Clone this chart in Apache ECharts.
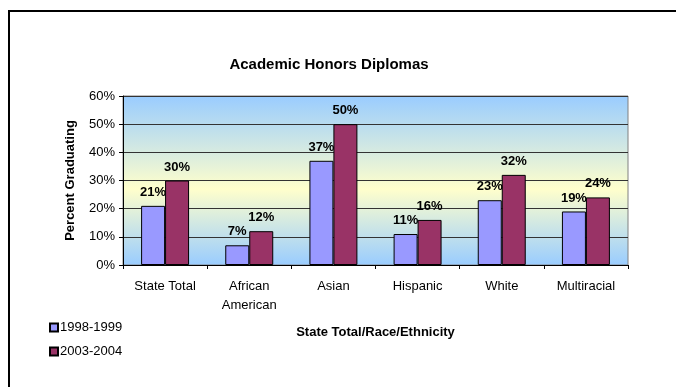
<!DOCTYPE html>
<html>
<head>
<meta charset="utf-8">
<script src="https://cdn.jsdelivr.net/npm/echarts@6/dist/echarts.min.js"></script>
<style>
  html, body { margin: 0; padding: 0; background: #fff; }
  #chart { width: 676px; height: 387px; }
</style>
</head>
<body>
<div id="chart"></div>
<script>
// Academic Honors Diplomas by group, two school years
var categories = ['State Total', 'African\nAmerican', 'Asian', 'Hispanic', 'White', 'Multiracial'];
var years = ['1998-1999', '2003-2004'];
var values1998 = [21, 7, 37, 11, 23, 19];
var values2003 = [30, 12, 50, 16, 32, 24];
var yTicks = [0, 10, 20, 30, 40, 50, 60];

var FONT = '"Liberation Sans", Arial, sans-serif';
var chart = echarts.init(document.getElementById('chart'), null, { renderer: 'canvas' });

function barLabel() {
  return {
    show: true,
    position: 'top',
    distance: 7,
    formatter: '{c}%',
    fontFamily: FONT,
    fontWeight: 'bold',
    fontSize: 13,
    color: '#000'
  };
}

chart.setOption({
  animation: false,
  backgroundColor: '#fff',
  title: {
    text: 'Academic Honors Diplomas',
    left: 324,
    textAlign: 'center',
    top: 52,
    textStyle: { fontFamily: FONT, fontWeight: 'bold', fontSize: 15, color: '#000' }
  },
  legend: {
    data: years,
    orient: 'vertical',
    left: 44,
    top: 316,
    itemWidth: 8,
    itemHeight: 8,
    itemGap: 11,
    icon: 'rect',
    textStyle: { fontFamily: FONT, fontSize: 13, color: '#000', padding: [0, 0, 0, -3] }
  },
  grid: {
    left: 123,
    right: 48,
    top: 96,
    bottom: 122,
    show: true,
    borderColor: '#808080',
    borderWidth: 1,
    backgroundColor: {
      type: 'linear', x: 0, y: 0, x2: 0, y2: 1,
      colorStops: [
        { offset: 0, color: '#99CCFF' },
        { offset: 0.55, color: '#FFFFCC' },
        { offset: 1, color: '#99CCFF' }
      ]
    }
  },
  xAxis: {
    type: 'category',
    data: categories,
    name: 'State Total/Race/Ethnicity',
    nameLocation: 'middle',
    nameGap: 61,
    nameTextStyle: { fontFamily: FONT, fontWeight: 'bold', fontSize: 13, color: '#000' },
    axisLine: { lineStyle: { color: '#000', width: 1 } },
    axisTick: { show: true, length: 4, lineStyle: { color: '#000' } },
    axisLabel: { fontFamily: FONT, fontSize: 13, color: '#000', margin: 12, lineHeight: 19 }
  },
  yAxis: {
    type: 'value',
    min: yTicks[0],
    max: yTicks[yTicks.length - 1],
    interval: 10,
    name: 'Percent Graduating',
    nameLocation: 'middle',
    nameGap: 46,
    nameTextStyle: { fontFamily: FONT, fontWeight: 'bold', fontSize: 13, color: '#000' },
    axisLine: { show: true, lineStyle: { color: '#000', width: 1 } },
    axisTick: { show: true, length: 4, lineStyle: { color: '#000' } },
    axisLabel: { fontFamily: FONT, fontSize: 13, color: '#000', margin: 8, formatter: '{value}%' },
    splitLine: { show: true, lineStyle: { color: '#333', width: 1 } }
  },
  series: [
    {
      name: years[0],
      type: 'bar',
      data: values1998,
      barGap: '0%',
      barCategoryGap: '43%',
      itemStyle: { color: '#9999FF', borderColor: '#000', borderWidth: 1 },
      label: barLabel()
    },
    {
      name: years[1],
      type: 'bar',
      data: values2003,
      itemStyle: { color: '#993366', borderColor: '#000', borderWidth: 1 },
      label: barLabel()
    }
  ],
  graphic: [
    {
      type: 'rect',
      shape: { x: 9, y: 11, width: 720, height: 420 },
      style: { fill: 'none', stroke: '#000', lineWidth: 2 },
      silent: true
    }
  ]
});
</script>
</body>
</html>
